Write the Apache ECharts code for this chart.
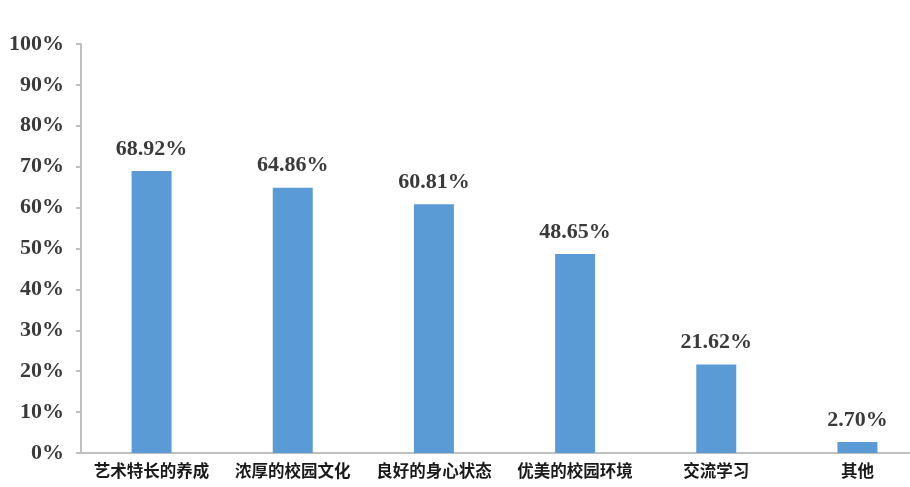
<!DOCTYPE html>
<html><head><meta charset="utf-8">
<script src="https://cdn.jsdelivr.net/npm/echarts@6/dist/echarts.min.js"></script>
<style>html,body{margin:0;padding:0;background:#fff}#c{width:910px;height:487px}</style>
</head><body><div id="c"></div>
<script>
const categories = ['艺术特长的养成','浓厚的校园文化','良好的身心状态','优美的校园环境','交流学习','其他'];
const values = [68.92, 64.86, 60.81, 48.65, 21.62, 2.70];
const chart = echarts.init(document.getElementById('c'));
chart.setOption({
  animation: false,
  grid: { left: 81, top: 44, width: 847, bottom: 34, containLabel: false, outerBoundsMode: 'none' },
  xAxis: {
    type: 'category', data: categories,
    axisLine: { lineStyle: { color: '#BFBFBF', width: 2 } },
    axisTick: { show: false },
    axisLabel: { color: '#1a1a1a', fontSize: 16.5, fontWeight: 'bold', fontFamily: 'Noto Sans CJK SC', margin: 9, interval: 0 }
  },
  yAxis: {
    type: 'value', min: 0, max: 100, interval: 10,
    splitLine: { show: false },
    axisLine: { show: true, lineStyle: { color: '#BFBFBF', width: 2 } },
    axisTick: { show: true, length: 5, lineStyle: { color: '#BFBFBF', width: 2 } },
    axisLabel: { formatter: '{value}%', color: '#3a3a3a', fontSize: 22, fontWeight: 'bold', fontFamily: 'Liberation Serif', margin: 17 }
  },
  series: [{
    type: 'bar', data: values, barWidth: 40,
    itemStyle: { color: '#5B9BD5' },
    label: { show: true, position: 'top', distance: 11, formatter: p => p.value.toFixed(2) + '%',
      color: '#3a3a3a', fontSize: 22, fontWeight: 'bold', fontFamily: 'Liberation Serif' }
  }]
});
</script></body></html>
